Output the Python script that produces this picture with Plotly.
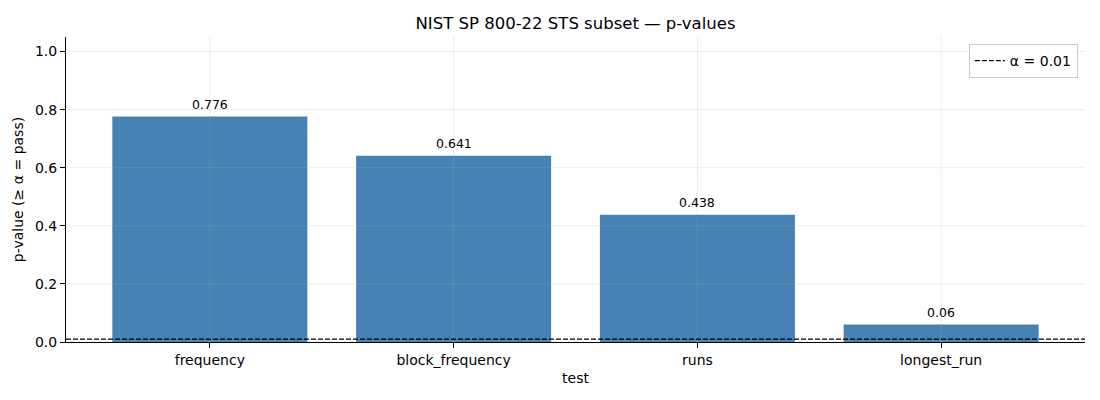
import plotly.graph_objects as go

tests = ["frequency", "block_frequency", "runs", "longest_run"]
p_values = [0.776, 0.641, 0.438, 0.06]
labels = ["0.776", "0.641", "0.438", "0.06"]
alpha = 0.01
y_ticks = [0.0, 0.2, 0.4, 0.6, 0.8, 1.0]

FONT = "DejaVu Sans, Arial, sans-serif"
fig = go.Figure()
fig.add_trace(go.Bar(x=tests, y=p_values, marker=dict(color="#4682B4", line=dict(width=0)),
                     width=0.8, showlegend=False, hoverinfo="skip"))

grid_col = "rgba(176,176,176,0.3)"
for i, _ in enumerate(tests):
    fig.add_shape(type="line", xref="x", yref="paper", x0=i, x1=i, y0=0, y1=1,
                  line=dict(color=grid_col, width=0.8), layer="above")
for t in y_ticks:
    fig.add_shape(type="line", xref="paper", yref="y", x0=0, x1=1, y0=t, y1=t,
                  line=dict(color=grid_col, width=0.8), layer="above")

fig.add_shape(type="line", xref="paper", yref="y", x0=0, x1=1, y0=alpha, y1=alpha,
              line=dict(color="black", width=1.1, dash="5px,2px"), layer="above",
              showlegend=True, name="α = 0.01")

for t, v, lab in zip(tests, p_values, labels):
    fig.add_annotation(x=t, y=v, text=lab, showarrow=False, yanchor="bottom", yshift=3,
                       font=dict(family=FONT, size=12.5, color="black"))

fig.update_layout(
    width=1100, height=400,
    margin=dict(l=58, r=23, t=29, b=66, autoexpand=False),
    paper_bgcolor="white", plot_bgcolor="white",
    font=dict(family=FONT, size=14, color="black"),
    title=dict(text="NIST SP 800-22 STS subset — p-values", x=0.5, xref="paper",
               y=0.9625, yanchor="middle", font=dict(size=16.5, color="black")),
    bargap=0.2,
    legend=dict(x=0.993, y=0.977, xanchor="right", yanchor="top",
                bordercolor="#cccccc", borderwidth=1, bgcolor="rgba(255,255,255,0.8)",
                font=dict(size=14)),
)
fig.update_xaxes(title=dict(text="test", font=dict(size=14), standoff=6),
                 range=[-0.59, 3.59], showgrid=False, showline=True, linecolor="black",
                 linewidth=1, ticks="outside", ticklen=5, tickcolor="black", zeroline=False,
                 automargin=False)
fig.update_yaxes(title=dict(text="p-value (≥ α = pass)", font=dict(size=14), standoff=8),
                 range=[0, 1.05], tickvals=y_ticks, ticktext=[f"{t:.1f}" for t in y_ticks],
                 showgrid=False, showline=True, linecolor="black", linewidth=1,
                 ticks="outside", ticklen=5, tickcolor="black", zeroline=False,
                 automargin=False)

fig.write_html("out.html")
